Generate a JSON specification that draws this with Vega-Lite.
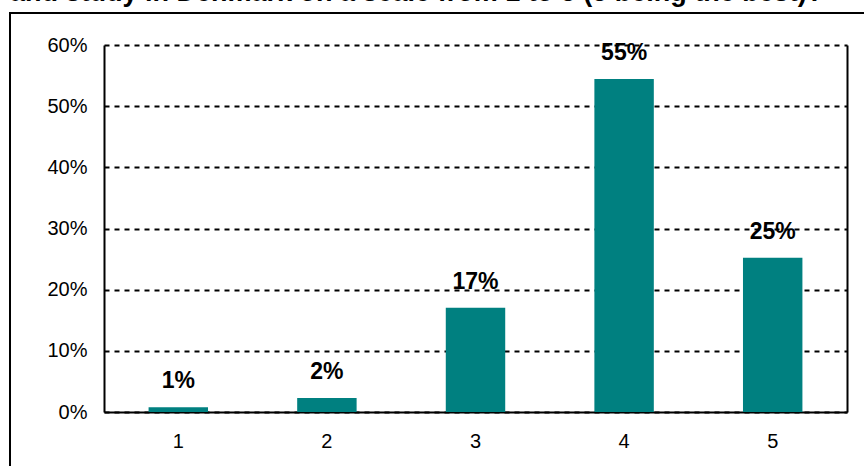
{
  "$schema": "https://vega.github.io/schema/vega-lite/v6.json",
  "autosize": {"type": "none"},
  "width": 743,
  "height": 367,
  "padding": {"left": 104, "top": 45, "right": 17, "bottom": 54},
  "background": "white",
  "title": {
    "text": "and study in Denmark on a scale from 1 to 5 (5 being the best)?",
    "anchor": "start",
    "frame": "group",
    "dx": -94,
    "offset": -16,
    "baseline": "alphabetic",
    "font": "Liberation Sans",
    "fontSize": 27,
    "fontWeight": "bold",
    "color": "black"
  },
  "config": {"view": {"stroke": null}, "font": "Liberation Sans"},
  "data": {
    "values": [
      {"rating": "1", "share": 0.0077, "label": "1%"},
      {"rating": "2", "share": 0.023, "label": "2%"},
      {"rating": "3", "share": 0.1705, "label": "17%"},
      {"rating": "4", "share": 0.5445, "label": "55%"},
      {"rating": "5", "share": 0.252, "label": "25%"}
    ]
  },
  "resolve": {"axis": {"y": "independent"}},
  "layer": [
    {
      "data": {"values": [{"frame": "outer"}]},
      "mark": {"type": "rect", "fill": null, "stroke": "black", "strokeWidth": 2, "clip": false},
      "encoding": {
        "x": {"value": -94},
        "x2": {"value": 900},
        "y": {"value": -32},
        "y2": {"value": 500}
      }
    },
    {
      "mark": {"type": "bar", "color": "#008080"},
      "encoding": {
        "x": {
          "field": "rating",
          "type": "nominal",
          "scale": {"paddingInner": 0.6, "paddingOuter": 0.3},
          "axis": {
            "title": null,
            "labelAngle": 0,
            "labelFontSize": 20,
            "labelColor": "black",
            "labelPadding": 19,
            "ticks": false,
            "domainColor": "black",
            "domainWidth": 2
          }
        },
        "y": {
          "field": "share",
          "type": "quantitative",
          "scale": {"domain": [0, 0.6], "nice": false},
          "axis": {
            "title": null,
            "format": ".0%",
            "values": [0, 0.1, 0.2, 0.3, 0.4, 0.5, 0.6],
            "labelFontSize": 20,
            "labelColor": "black",
            "labelPadding": 17,
            "ticks": false,
            "grid": true,
            "gridColor": "black",
            "gridDash": [5, 5],
            "gridWidth": 2,
            "gridOpacity": 1,
            "domainColor": "black",
            "domainWidth": 2
          }
        }
      }
    },
    {
      "mark": {"type": "text", "baseline": "alphabetic", "dy": -19, "fontSize": 23, "fontWeight": "bold", "color": "black"},
      "encoding": {
        "x": {"field": "rating", "type": "nominal"},
        "y": {
          "field": "share",
          "type": "quantitative",
          "axis": {
            "orient": "right",
            "title": null,
            "labels": false,
            "ticks": false,
            "grid": false,
            "domainColor": "black",
            "domainWidth": 2
          }
        },
        "text": {"field": "label"}
      }
    }
  ]
}
